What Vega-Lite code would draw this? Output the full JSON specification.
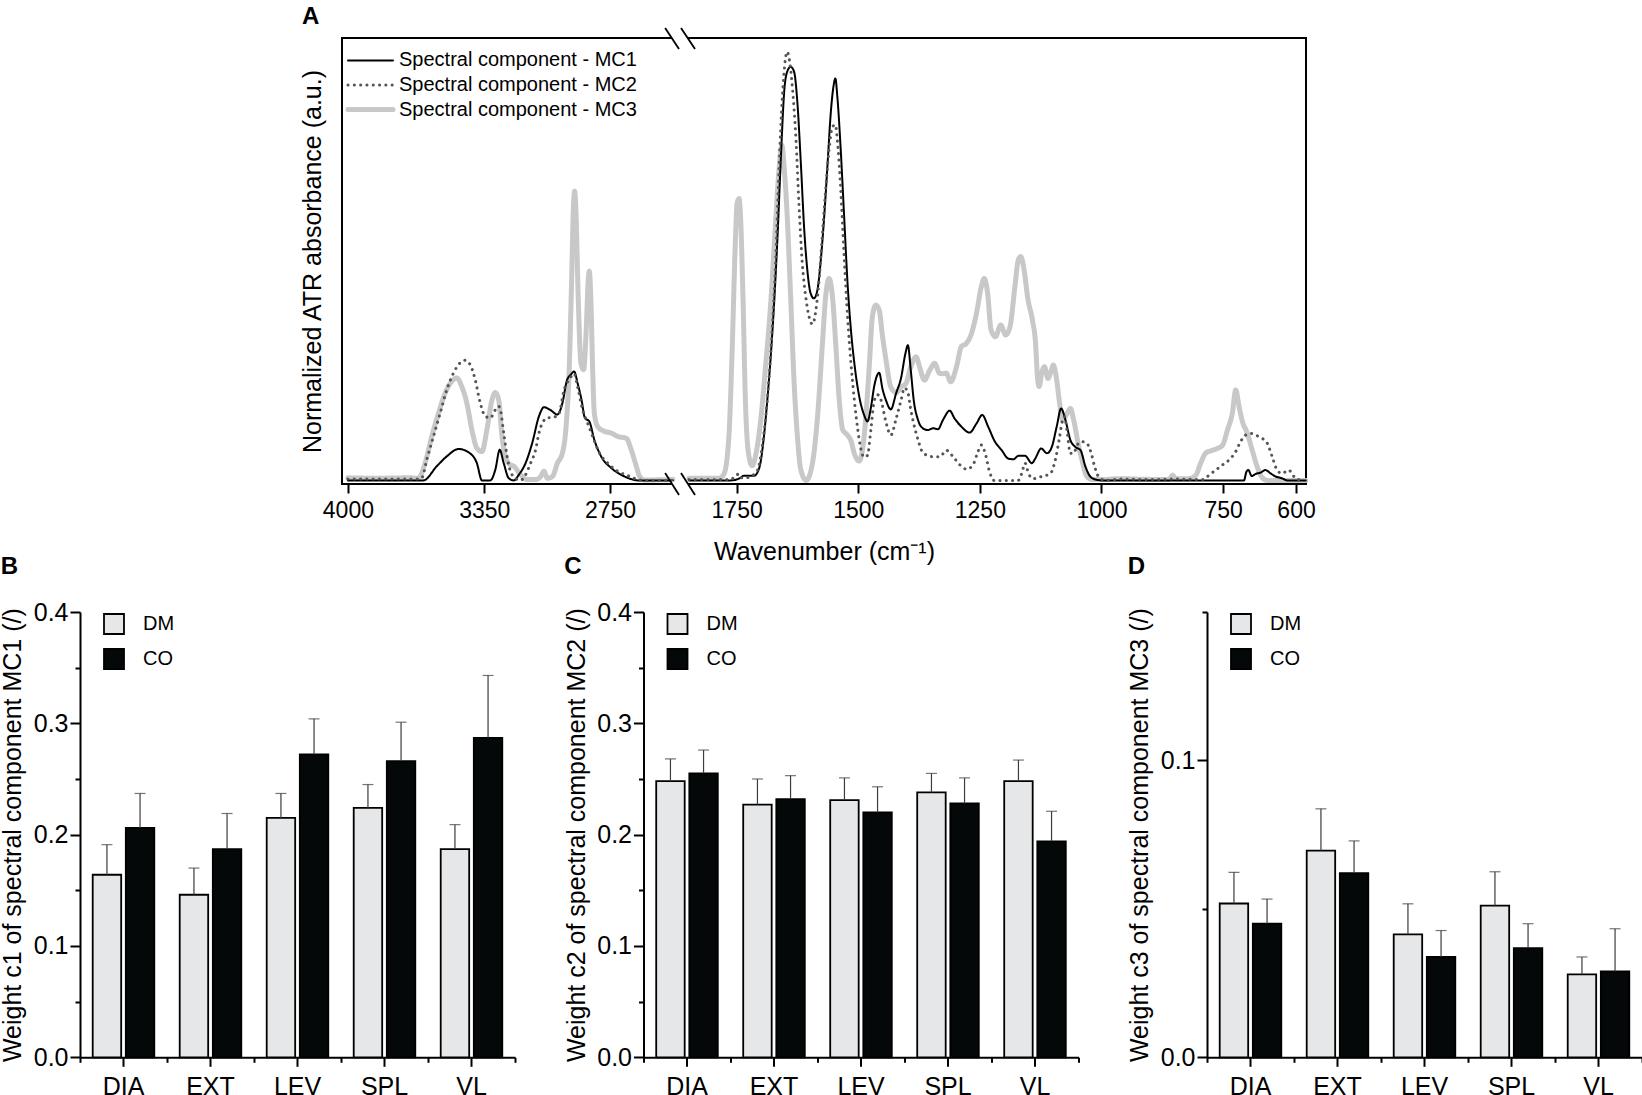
{
  "$schema": "https://vega.github.io/schema/vega-lite/v6.json",
  "padding": {"left": 0, "top": 3, "right": 0, "bottom": 0},
  "background": "white",
  "config": {
    "view": {"stroke": null},
    "font": "Liberation Sans",
    "axis": {"labelColor": "black", "titleColor": "black", "domainColor": "black", "tickColor": "black", "labelFont": "Liberation Sans", "titleFont": "Liberation Sans", "titleFontWeight": "normal", "grid": false},
    "legend": {"labelFont": "Liberation Sans", "labelColor": "black", "labelLimit": 400},
    "title": {"font": "Liberation Sans", "fontWeight": "bold", "fontSize": 24, "color": "black"}
  },
  "datasets": {
    "spec": [
      {"s":"L","c":"MC3","w":4000,"v":0.006},{"s":"L","c":"MC3","w":3864,"v":0.005},{"s":"L","c":"MC3","w":3704,"v":0.006},{"s":"L","c":"MC3","w":3664,"v":0.005},{"s":"L","c":"MC3","w":3656,"v":0.009},{"s":"L","c":"MC3","w":3632,"v":0.04},{"s":"L","c":"MC3","w":3600,"v":0.102},{"s":"L","c":"MC3","w":3568,"v":0.156},{"s":"L","c":"MC3","w":3536,"v":0.203},{"s":"L","c":"MC3","w":3505,"v":0.23},{"s":"L","c":"MC3","w":3481,"v":0.238},{"s":"L","c":"MC3","w":3457,"v":0.218},{"s":"L","c":"MC3","w":3433,"v":0.18},{"s":"L","c":"MC3","w":3409,"v":0.118},{"s":"L","c":"MC3","w":3385,"v":0.075},{"s":"L","c":"MC3","w":3361,"v":0.067},{"s":"L","c":"MC3","w":3337,"v":0.118},{"s":"L","c":"MC3","w":3313,"v":0.187},{"s":"L","c":"MC3","w":3297,"v":0.204},{"s":"L","c":"MC3","w":3281,"v":0.187},{"s":"L","c":"MC3","w":3265,"v":0.102},{"s":"L","c":"MC3","w":3249,"v":0.056},{"s":"L","c":"MC3","w":3225,"v":0.036},{"s":"L","c":"MC3","w":3209,"v":0.033},{"s":"L","c":"MC3","w":3177,"v":0.013},{"s":"L","c":"MC3","w":3145,"v":0.002},{"s":"L","c":"MC3","w":3105,"v":0.002},{"s":"L","c":"MC3","w":3081,"v":0.009},{"s":"L","c":"MC3","w":3065,"v":0.021},{"s":"L","c":"MC3","w":3049,"v":0.005},{"s":"L","c":"MC3","w":3025,"v":0.009},{"s":"L","c":"MC3","w":3001,"v":0.04},{"s":"L","c":"MC3","w":2977,"v":0.064},{"s":"L","c":"MC3","w":2961,"v":0.118},{"s":"L","c":"MC3","w":2945,"v":0.257},{"s":"L","c":"MC3","w":2934,"v":0.451},{"s":"L","c":"MC3","w":2924,"v":0.644},{"s":"L","c":"MC3","w":2919,"v":0.672},{"s":"L","c":"MC3","w":2913,"v":0.629},{"s":"L","c":"MC3","w":2902,"v":0.427},{"s":"L","c":"MC3","w":2889,"v":0.273},{"s":"L","c":"MC3","w":2876,"v":0.257},{"s":"L","c":"MC3","w":2865,"v":0.335},{"s":"L","c":"MC3","w":2854,"v":0.466},{"s":"L","c":"MC3","w":2849,"v":0.486},{"s":"L","c":"MC3","w":2841,"v":0.412},{"s":"L","c":"MC3","w":2833,"v":0.257},{"s":"L","c":"MC3","w":2825,"v":0.156},{"s":"L","c":"MC3","w":2809,"v":0.125},{"s":"L","c":"MC3","w":2777,"v":0.114},{"s":"L","c":"MC3","w":2745,"v":0.11},{"s":"L","c":"MC3","w":2713,"v":0.102},{"s":"L","c":"MC3","w":2673,"v":0.098},{"s":"L","c":"MC3","w":2649,"v":0.071},{"s":"L","c":"MC3","w":2625,"v":0.033},{"s":"L","c":"MC3","w":2609,"v":0.009},{"s":"L","c":"MC3","w":2585,"v":0.001},{"s":"L","c":"MC3","w":2450,"v":0.002},
      {"s":"R","c":"MC3","w":1848,"v":0.005},{"s":"R","c":"MC3","w":1786,"v":0.005},{"s":"R","c":"MC3","w":1776,"v":0.015},{"s":"R","c":"MC3","w":1766,"v":0.101},{"s":"R","c":"MC3","w":1759,"v":0.311},{"s":"R","c":"MC3","w":1753,"v":0.543},{"s":"R","c":"MC3","w":1749,"v":0.644},{"s":"R","c":"MC3","w":1745,"v":0.655},{"s":"R","c":"MC3","w":1742,"v":0.613},{"s":"R","c":"MC3","w":1737,"v":0.427},{"s":"R","c":"MC3","w":1732,"v":0.186},{"s":"R","c":"MC3","w":1725,"v":0.058},{"s":"R","c":"MC3","w":1718,"v":0.034},{"s":"R","c":"MC3","w":1711,"v":0.058},{"s":"R","c":"MC3","w":1701,"v":0.135},{"s":"R","c":"MC3","w":1690,"v":0.272},{"s":"R","c":"MC3","w":1680,"v":0.411},{"s":"R","c":"MC3","w":1670,"v":0.597},{"s":"R","c":"MC3","w":1663,"v":0.721},{"s":"R","c":"MC3","w":1657,"v":0.779},{"s":"R","c":"MC3","w":1653,"v":0.737},{"s":"R","c":"MC3","w":1646,"v":0.613},{"s":"R","c":"MC3","w":1639,"v":0.427},{"s":"R","c":"MC3","w":1632,"v":0.231},{"s":"R","c":"MC3","w":1625,"v":0.101},{"s":"R","c":"MC3","w":1618,"v":0.024},{"s":"R","c":"MC3","w":1607,"v":0},{"s":"R","c":"MC3","w":1594,"v":0.041},{"s":"R","c":"MC3","w":1584,"v":0.144},{"s":"R","c":"MC3","w":1574,"v":0.311},{"s":"R","c":"MC3","w":1567,"v":0.427},{"s":"R","c":"MC3","w":1560,"v":0.469},{"s":"R","c":"MC3","w":1553,"v":0.427},{"s":"R","c":"MC3","w":1546,"v":0.311},{"s":"R","c":"MC3","w":1539,"v":0.186},{"s":"R","c":"MC3","w":1532,"v":0.118},{"s":"R","c":"MC3","w":1522,"v":0.105},{"s":"R","c":"MC3","w":1515,"v":0.092},{"s":"R","c":"MC3","w":1508,"v":0.062},{"s":"R","c":"MC3","w":1498,"v":0.045},{"s":"R","c":"MC3","w":1488,"v":0.101},{"s":"R","c":"MC3","w":1477,"v":0.272},{"s":"R","c":"MC3","w":1471,"v":0.38},{"s":"R","c":"MC3","w":1464,"v":0.407},{"s":"R","c":"MC3","w":1457,"v":0.396},{"s":"R","c":"MC3","w":1450,"v":0.334},{"s":"R","c":"MC3","w":1443,"v":0.28},{"s":"R","c":"MC3","w":1433,"v":0.217},{"s":"R","c":"MC3","w":1422,"v":0.204},{"s":"R","c":"MC3","w":1412,"v":0.217},{"s":"R","c":"MC3","w":1402,"v":0.225},{"s":"R","c":"MC3","w":1392,"v":0.264},{"s":"R","c":"MC3","w":1381,"v":0.287},{"s":"R","c":"MC3","w":1374,"v":0.264},{"s":"R","c":"MC3","w":1364,"v":0.233},{"s":"R","c":"MC3","w":1353,"v":0.256},{"s":"R","c":"MC3","w":1343,"v":0.272},{"s":"R","c":"MC3","w":1333,"v":0.249},{"s":"R","c":"MC3","w":1326,"v":0.248},{"s":"R","c":"MC3","w":1319,"v":0.249},{"s":"R","c":"MC3","w":1310,"v":0.229},{"s":"R","c":"MC3","w":1298,"v":0.264},{"s":"R","c":"MC3","w":1288,"v":0.311},{"s":"R","c":"MC3","w":1278,"v":0.318},{"s":"R","c":"MC3","w":1267,"v":0.342},{"s":"R","c":"MC3","w":1257,"v":0.388},{"s":"R","c":"MC3","w":1247,"v":0.45},{"s":"R","c":"MC3","w":1241,"v":0.469},{"s":"R","c":"MC3","w":1234,"v":0.435},{"s":"R","c":"MC3","w":1227,"v":0.35},{"s":"R","c":"MC3","w":1218,"v":0.334},{"s":"R","c":"MC3","w":1207,"v":0.361},{"s":"R","c":"MC3","w":1197,"v":0.338},{"s":"R","c":"MC3","w":1188,"v":0.357},{"s":"R","c":"MC3","w":1178,"v":0.45},{"s":"R","c":"MC3","w":1171,"v":0.512},{"s":"R","c":"MC3","w":1166,"v":0.52},{"s":"R","c":"MC3","w":1158,"v":0.481},{"s":"R","c":"MC3","w":1152,"v":0.427},{"s":"R","c":"MC3","w":1142,"v":0.373},{"s":"R","c":"MC3","w":1136,"v":0.326},{"s":"R","c":"MC3","w":1131,"v":0.233},{"s":"R","c":"MC3","w":1128,"v":0.218},{"s":"R","c":"MC3","w":1123,"v":0.249},{"s":"R","c":"MC3","w":1117,"v":0.264},{"s":"R","c":"MC3","w":1110,"v":0.237},{"s":"R","c":"MC3","w":1103,"v":0.256},{"s":"R","c":"MC3","w":1099,"v":0.268},{"s":"R","c":"MC3","w":1092,"v":0.233},{"s":"R","c":"MC3","w":1086,"v":0.179},{"s":"R","c":"MC3","w":1080,"v":0.14},{"s":"R","c":"MC3","w":1071,"v":0.155},{"s":"R","c":"MC3","w":1064,"v":0.167},{"s":"R","c":"MC3","w":1057,"v":0.14},{"s":"R","c":"MC3","w":1048,"v":0.086},{"s":"R","c":"MC3","w":1040,"v":0.047},{"s":"R","c":"MC3","w":1030,"v":0.009},{"s":"R","c":"MC3","w":1019,"v":0.002},{"s":"R","c":"MC3","w":997,"v":0.002},{"s":"R","c":"MC3","w":960,"v":0.004},{"s":"R","c":"MC3","w":929,"v":0.003},{"s":"R","c":"MC3","w":860,"v":0.002},{"s":"R","c":"MC3","w":857,"v":0.008},{"s":"R","c":"MC3","w":854,"v":0.012},{"s":"R","c":"MC3","w":847,"v":0.004},{"s":"R","c":"MC3","w":820,"v":0.004},{"s":"R","c":"MC3","w":806,"v":0.012},{"s":"R","c":"MC3","w":796,"v":0.04},{"s":"R","c":"MC3","w":786,"v":0.063},{"s":"R","c":"MC3","w":772,"v":0.07},{"s":"R","c":"MC3","w":762,"v":0.074},{"s":"R","c":"MC3","w":751,"v":0.082},{"s":"R","c":"MC3","w":741,"v":0.117},{"s":"R","c":"MC3","w":731,"v":0.156},{"s":"R","c":"MC3","w":724,"v":0.21},{"s":"R","c":"MC3","w":717,"v":0.171},{"s":"R","c":"MC3","w":711,"v":0.14},{"s":"R","c":"MC3","w":700,"v":0.109},{"s":"R","c":"MC3","w":690,"v":0.07},{"s":"R","c":"MC3","w":680,"v":0.032},{"s":"R","c":"MC3","w":670,"v":0.007},{"s":"R","c":"MC3","w":659,"v":0},{"s":"R","c":"MC3","w":580,"v":0},
      {"s":"L","c":"MC1","w":4000,"v":0},{"s":"L","c":"MC1","w":3640,"v":0},{"s":"L","c":"MC1","w":3576,"v":0.033},{"s":"L","c":"MC1","w":3528,"v":0.056},{"s":"L","c":"MC1","w":3472,"v":0.073},{"s":"L","c":"MC1","w":3424,"v":0.065},{"s":"L","c":"MC1","w":3385,"v":0.04},{"s":"L","c":"MC1","w":3361,"v":0},{"s":"L","c":"MC1","w":3321,"v":0},{"s":"L","c":"MC1","w":3297,"v":0.025},{"s":"L","c":"MC1","w":3276,"v":0.071},{"s":"L","c":"MC1","w":3257,"v":0.04},{"s":"L","c":"MC1","w":3233,"v":0.005},{"s":"L","c":"MC1","w":3209,"v":0},{"s":"L","c":"MC1","w":3185,"v":0.013},{"s":"L","c":"MC1","w":3153,"v":0.04},{"s":"L","c":"MC1","w":3121,"v":0.087},{"s":"L","c":"MC1","w":3089,"v":0.149},{"s":"L","c":"MC1","w":3065,"v":0.17},{"s":"L","c":"MC1","w":3033,"v":0.163},{"s":"L","c":"MC1","w":3001,"v":0.153},{"s":"L","c":"MC1","w":2977,"v":0.18},{"s":"L","c":"MC1","w":2956,"v":0.232},{"s":"L","c":"MC1","w":2937,"v":0.246},{"s":"L","c":"MC1","w":2921,"v":0.253},{"s":"L","c":"MC1","w":2905,"v":0.226},{"s":"L","c":"MC1","w":2886,"v":0.187},{"s":"L","c":"MC1","w":2870,"v":0.145},{"s":"L","c":"MC1","w":2849,"v":0.137},{"s":"L","c":"MC1","w":2825,"v":0.094},{"s":"L","c":"MC1","w":2793,"v":0.056},{"s":"L","c":"MC1","w":2745,"v":0.029},{"s":"L","c":"MC1","w":2697,"v":0.013},{"s":"L","c":"MC1","w":2649,"v":0.003},{"s":"L","c":"MC1","w":2617,"v":0},{"s":"L","c":"MC1","w":2450,"v":0},
      {"s":"R","c":"MC1","w":1848,"v":0},{"s":"R","c":"MC1","w":1762,"v":0},{"s":"R","c":"MC1","w":1742,"v":0.006},{"s":"R","c":"MC1","w":1735,"v":0.011},{"s":"R","c":"MC1","w":1714,"v":0.011},{"s":"R","c":"MC1","w":1707,"v":0.019},{"s":"R","c":"MC1","w":1701,"v":0.041},{"s":"R","c":"MC1","w":1694,"v":0.101},{"s":"R","c":"MC1","w":1687,"v":0.186},{"s":"R","c":"MC1","w":1680,"v":0.287},{"s":"R","c":"MC1","w":1673,"v":0.411},{"s":"R","c":"MC1","w":1666,"v":0.566},{"s":"R","c":"MC1","w":1659,"v":0.752},{"s":"R","c":"MC1","w":1652,"v":0.907},{"s":"R","c":"MC1","w":1646,"v":0.95},{"s":"R","c":"MC1","w":1639,"v":0.961},{"s":"R","c":"MC1","w":1632,"v":0.95},{"s":"R","c":"MC1","w":1625,"v":0.876},{"s":"R","c":"MC1","w":1618,"v":0.737},{"s":"R","c":"MC1","w":1611,"v":0.582},{"s":"R","c":"MC1","w":1604,"v":0.481},{"s":"R","c":"MC1","w":1598,"v":0.435},{"s":"R","c":"MC1","w":1591,"v":0.423},{"s":"R","c":"MC1","w":1584,"v":0.442},{"s":"R","c":"MC1","w":1577,"v":0.512},{"s":"R","c":"MC1","w":1570,"v":0.613},{"s":"R","c":"MC1","w":1563,"v":0.737},{"s":"R","c":"MC1","w":1556,"v":0.861},{"s":"R","c":"MC1","w":1551,"v":0.915},{"s":"R","c":"MC1","w":1547,"v":0.934},{"s":"R","c":"MC1","w":1543,"v":0.892},{"s":"R","c":"MC1","w":1536,"v":0.768},{"s":"R","c":"MC1","w":1529,"v":0.613},{"s":"R","c":"MC1","w":1522,"v":0.458},{"s":"R","c":"MC1","w":1515,"v":0.349},{"s":"R","c":"MC1","w":1508,"v":0.272},{"s":"R","c":"MC1","w":1498,"v":0.195},{"s":"R","c":"MC1","w":1488,"v":0.152},{"s":"R","c":"MC1","w":1481,"v":0.137},{"s":"R","c":"MC1","w":1474,"v":0.169},{"s":"R","c":"MC1","w":1467,"v":0.22},{"s":"R","c":"MC1","w":1457,"v":0.25},{"s":"R","c":"MC1","w":1450,"v":0.212},{"s":"R","c":"MC1","w":1443,"v":0.186},{"s":"R","c":"MC1","w":1433,"v":0.165},{"s":"R","c":"MC1","w":1422,"v":0.203},{"s":"R","c":"MC1","w":1412,"v":0.238},{"s":"R","c":"MC1","w":1403,"v":0.295},{"s":"R","c":"MC1","w":1398,"v":0.314},{"s":"R","c":"MC1","w":1392,"v":0.256},{"s":"R","c":"MC1","w":1386,"v":0.187},{"s":"R","c":"MC1","w":1377,"v":0.14},{"s":"R","c":"MC1","w":1367,"v":0.121},{"s":"R","c":"MC1","w":1357,"v":0.117},{"s":"R","c":"MC1","w":1346,"v":0.121},{"s":"R","c":"MC1","w":1336,"v":0.119},{"s":"R","c":"MC1","w":1326,"v":0.14},{"s":"R","c":"MC1","w":1312,"v":0.162},{"s":"R","c":"MC1","w":1302,"v":0.144},{"s":"R","c":"MC1","w":1288,"v":0.125},{"s":"R","c":"MC1","w":1271,"v":0.111},{"s":"R","c":"MC1","w":1257,"v":0.132},{"s":"R","c":"MC1","w":1245,"v":0.152},{"s":"R","c":"MC1","w":1233,"v":0.125},{"s":"R","c":"MC1","w":1219,"v":0.09},{"s":"R","c":"MC1","w":1205,"v":0.07},{"s":"R","c":"MC1","w":1192,"v":0.051},{"s":"R","c":"MC1","w":1181,"v":0.049},{"s":"R","c":"MC1","w":1171,"v":0.057},{"s":"R","c":"MC1","w":1157,"v":0.057},{"s":"R","c":"MC1","w":1143,"v":0.04},{"s":"R","c":"MC1","w":1136,"v":0.051},{"s":"R","c":"MC1","w":1124,"v":0.074},{"s":"R","c":"MC1","w":1112,"v":0.063},{"s":"R","c":"MC1","w":1102,"v":0.078},{"s":"R","c":"MC1","w":1092,"v":0.125},{"s":"R","c":"MC1","w":1083,"v":0.167},{"s":"R","c":"MC1","w":1074,"v":0.14},{"s":"R","c":"MC1","w":1064,"v":0.094},{"s":"R","c":"MC1","w":1054,"v":0.078},{"s":"R","c":"MC1","w":1043,"v":0.07},{"s":"R","c":"MC1","w":1033,"v":0.032},{"s":"R","c":"MC1","w":1023,"v":0.009},{"s":"R","c":"MC1","w":1012,"v":0.002},{"s":"R","c":"MC1","w":999,"v":0},{"s":"R","c":"MC1","w":707,"v":0},{"s":"R","c":"MC1","w":702,"v":0.02},{"s":"R","c":"MC1","w":698,"v":0.024},{"s":"R","c":"MC1","w":691,"v":0.01},{"s":"R","c":"MC1","w":683,"v":0.015},{"s":"R","c":"MC1","w":673,"v":0.018},{"s":"R","c":"MC1","w":663,"v":0.024},{"s":"R","c":"MC1","w":652,"v":0.016},{"s":"R","c":"MC1","w":642,"v":0.009},{"s":"R","c":"MC1","w":629,"v":0.005},{"s":"R","c":"MC1","w":618,"v":0},{"s":"R","c":"MC1","w":580,"v":0},
      {"s":"L","c":"MC2","w":4000,"v":0.003},{"s":"L","c":"MC2","w":3664,"v":0.003},{"s":"L","c":"MC2","w":3648,"v":0.005},{"s":"L","c":"MC2","w":3624,"v":0.048},{"s":"L","c":"MC2","w":3592,"v":0.102},{"s":"L","c":"MC2","w":3560,"v":0.156},{"s":"L","c":"MC2","w":3528,"v":0.211},{"s":"L","c":"MC2","w":3497,"v":0.249},{"s":"L","c":"MC2","w":3465,"v":0.273},{"s":"L","c":"MC2","w":3441,"v":0.279},{"s":"L","c":"MC2","w":3417,"v":0.269},{"s":"L","c":"MC2","w":3393,"v":0.234},{"s":"L","c":"MC2","w":3369,"v":0.18},{"s":"L","c":"MC2","w":3345,"v":0.149},{"s":"L","c":"MC2","w":3321,"v":0.145},{"s":"L","c":"MC2","w":3297,"v":0.164},{"s":"L","c":"MC2","w":3281,"v":0.172},{"s":"L","c":"MC2","w":3273,"v":0.164},{"s":"L","c":"MC2","w":3257,"v":0.11},{"s":"L","c":"MC2","w":3241,"v":0.056},{"s":"L","c":"MC2","w":3225,"v":0.021},{"s":"L","c":"MC2","w":3201,"v":0.005},{"s":"L","c":"MC2","w":3177,"v":0},{"s":"L","c":"MC2","w":3153,"v":0.013},{"s":"L","c":"MC2","w":3129,"v":0.04},{"s":"L","c":"MC2","w":3105,"v":0.071},{"s":"L","c":"MC2","w":3089,"v":0.11},{"s":"L","c":"MC2","w":3073,"v":0.133},{"s":"L","c":"MC2","w":3049,"v":0.145},{"s":"L","c":"MC2","w":3017,"v":0.147},{"s":"L","c":"MC2","w":2993,"v":0.156},{"s":"L","c":"MC2","w":2969,"v":0.211},{"s":"L","c":"MC2","w":2945,"v":0.234},{"s":"L","c":"MC2","w":2921,"v":0.248},{"s":"L","c":"MC2","w":2905,"v":0.218},{"s":"L","c":"MC2","w":2881,"v":0.164},{"s":"L","c":"MC2","w":2857,"v":0.133},{"s":"L","c":"MC2","w":2833,"v":0.102},{"s":"L","c":"MC2","w":2801,"v":0.064},{"s":"L","c":"MC2","w":2761,"v":0.04},{"s":"L","c":"MC2","w":2713,"v":0.021},{"s":"L","c":"MC2","w":2665,"v":0.011},{"s":"L","c":"MC2","w":2617,"v":0.002},{"s":"L","c":"MC2","w":2585,"v":0},{"s":"L","c":"MC2","w":2450,"v":0},
      {"s":"R","c":"MC2","w":1848,"v":0.002},{"s":"R","c":"MC2","w":1762,"v":0.002},{"s":"R","c":"MC2","w":1752,"v":0.011},{"s":"R","c":"MC2","w":1745,"v":0.015},{"s":"R","c":"MC2","w":1740,"v":0.006},{"s":"R","c":"MC2","w":1731,"v":0.006},{"s":"R","c":"MC2","w":1718,"v":0.011},{"s":"R","c":"MC2","w":1707,"v":0.024},{"s":"R","c":"MC2","w":1697,"v":0.083},{"s":"R","c":"MC2","w":1687,"v":0.186},{"s":"R","c":"MC2","w":1677,"v":0.349},{"s":"R","c":"MC2","w":1670,"v":0.504},{"s":"R","c":"MC2","w":1663,"v":0.721},{"s":"R","c":"MC2","w":1656,"v":0.892},{"s":"R","c":"MC2","w":1650,"v":0.977},{"s":"R","c":"MC2","w":1646,"v":0.996},{"s":"R","c":"MC2","w":1641,"v":0.973},{"s":"R","c":"MC2","w":1635,"v":0.907},{"s":"R","c":"MC2","w":1628,"v":0.791},{"s":"R","c":"MC2","w":1622,"v":0.643},{"s":"R","c":"MC2","w":1615,"v":0.504},{"s":"R","c":"MC2","w":1608,"v":0.427},{"s":"R","c":"MC2","w":1601,"v":0.38},{"s":"R","c":"MC2","w":1594,"v":0.363},{"s":"R","c":"MC2","w":1587,"v":0.396},{"s":"R","c":"MC2","w":1580,"v":0.473},{"s":"R","c":"MC2","w":1574,"v":0.566},{"s":"R","c":"MC2","w":1567,"v":0.675},{"s":"R","c":"MC2","w":1560,"v":0.768},{"s":"R","c":"MC2","w":1553,"v":0.822},{"s":"R","c":"MC2","w":1547,"v":0.826},{"s":"R","c":"MC2","w":1543,"v":0.791},{"s":"R","c":"MC2","w":1536,"v":0.675},{"s":"R","c":"MC2","w":1529,"v":0.52},{"s":"R","c":"MC2","w":1522,"v":0.38},{"s":"R","c":"MC2","w":1515,"v":0.272},{"s":"R","c":"MC2","w":1508,"v":0.186},{"s":"R","c":"MC2","w":1501,"v":0.118},{"s":"R","c":"MC2","w":1495,"v":0.075},{"s":"R","c":"MC2","w":1488,"v":0.054},{"s":"R","c":"MC2","w":1481,"v":0.058},{"s":"R","c":"MC2","w":1474,"v":0.118},{"s":"R","c":"MC2","w":1467,"v":0.186},{"s":"R","c":"MC2","w":1460,"v":0.199},{"s":"R","c":"MC2","w":1453,"v":0.186},{"s":"R","c":"MC2","w":1443,"v":0.135},{"s":"R","c":"MC2","w":1433,"v":0.105},{"s":"R","c":"MC2","w":1422,"v":0.144},{"s":"R","c":"MC2","w":1412,"v":0.186},{"s":"R","c":"MC2","w":1405,"v":0.215},{"s":"R","c":"MC2","w":1398,"v":0.205},{"s":"R","c":"MC2","w":1393,"v":0.171},{"s":"R","c":"MC2","w":1386,"v":0.132},{"s":"R","c":"MC2","w":1377,"v":0.094},{"s":"R","c":"MC2","w":1370,"v":0.07},{"s":"R","c":"MC2","w":1360,"v":0.059},{"s":"R","c":"MC2","w":1346,"v":0.055},{"s":"R","c":"MC2","w":1332,"v":0.055},{"s":"R","c":"MC2","w":1319,"v":0.07},{"s":"R","c":"MC2","w":1305,"v":0.055},{"s":"R","c":"MC2","w":1291,"v":0.036},{"s":"R","c":"MC2","w":1277,"v":0.026},{"s":"R","c":"MC2","w":1264,"v":0.036},{"s":"R","c":"MC2","w":1255,"v":0.063},{"s":"R","c":"MC2","w":1247,"v":0.082},{"s":"R","c":"MC2","w":1239,"v":0.063},{"s":"R","c":"MC2","w":1230,"v":0.02},{"s":"R","c":"MC2","w":1221,"v":0},{"s":"R","c":"MC2","w":1171,"v":0},{"s":"R","c":"MC2","w":1164,"v":0.016},{"s":"R","c":"MC2","w":1157,"v":0.04},{"s":"R","c":"MC2","w":1150,"v":0.016},{"s":"R","c":"MC2","w":1140,"v":0.004},{"s":"R","c":"MC2","w":1123,"v":0.009},{"s":"R","c":"MC2","w":1105,"v":0.016},{"s":"R","c":"MC2","w":1095,"v":0.047},{"s":"R","c":"MC2","w":1087,"v":0.094},{"s":"R","c":"MC2","w":1080,"v":0.14},{"s":"R","c":"MC2","w":1076,"v":0.148},{"s":"R","c":"MC2","w":1071,"v":0.117},{"s":"R","c":"MC2","w":1064,"v":0.063},{"s":"R","c":"MC2","w":1057,"v":0.063},{"s":"R","c":"MC2","w":1050,"v":0.082},{"s":"R","c":"MC2","w":1040,"v":0.09},{"s":"R","c":"MC2","w":1030,"v":0.086},{"s":"R","c":"MC2","w":1021,"v":0.063},{"s":"R","c":"MC2","w":1014,"v":0.032},{"s":"R","c":"MC2","w":1006,"v":0.009},{"s":"R","c":"MC2","w":992,"v":0},{"s":"R","c":"MC2","w":960,"v":0.003},{"s":"R","c":"MC2","w":900,"v":0.002},{"s":"R","c":"MC2","w":850,"v":0.003},{"s":"R","c":"MC2","w":792,"v":0.002},{"s":"R","c":"MC2","w":786,"v":0.005},{"s":"R","c":"MC2","w":779,"v":0.012},{"s":"R","c":"MC2","w":765,"v":0.024},{"s":"R","c":"MC2","w":751,"v":0.036},{"s":"R","c":"MC2","w":738,"v":0.047},{"s":"R","c":"MC2","w":724,"v":0.067},{"s":"R","c":"MC2","w":714,"v":0.09},{"s":"R","c":"MC2","w":704,"v":0.105},{"s":"R","c":"MC2","w":693,"v":0.109},{"s":"R","c":"MC2","w":683,"v":0.105},{"s":"R","c":"MC2","w":670,"v":0.098},{"s":"R","c":"MC2","w":659,"v":0.086},{"s":"R","c":"MC2","w":649,"v":0.055},{"s":"R","c":"MC2","w":639,"v":0.024},{"s":"R","c":"MC2","w":629,"v":0.016},{"s":"R","c":"MC2","w":615,"v":0.024},{"s":"R","c":"MC2","w":605,"v":0.01},{"s":"R","c":"MC2","w":598,"v":0.002},{"s":"R","c":"MC2","w":585,"v":0.002}
    ],
    "gap": [
      {"x": 1883, "x2": 1850, "y": 1.028},
      {"x": 1883, "x2": 1850, "y": -0.0084}
    ],
    "slash": [
      {"x": 1897, "x2": 1868.5, "y": 1.051, "y2": 1.0023},
      {"x": 1864.4, "x2": 1835.6, "y": 1.051, "y2": 1.0023},
      {"x": 1897, "x2": 1868.5, "y": 0.0172, "y2": -0.0339},
      {"x": 1864.4, "x2": 1835.6, "y": 0.0172, "y2": -0.0339}
    ],
    "bars": [
      {"p":"B","cat":"DIA","grp":"DM","v":0.164,"err":0.191},{"p":"B","cat":"DIA","grp":"CO","v":0.206,"err":0.237},
      {"p":"B","cat":"EXT","grp":"DM","v":0.146,"err":0.170},{"p":"B","cat":"EXT","grp":"CO","v":0.187,"err":0.219},
      {"p":"B","cat":"LEV","grp":"DM","v":0.215,"err":0.237},{"p":"B","cat":"LEV","grp":"CO","v":0.272,"err":0.304},
      {"p":"B","cat":"SPL","grp":"DM","v":0.224,"err":0.245},{"p":"B","cat":"SPL","grp":"CO","v":0.266,"err":0.301},
      {"p":"B","cat":"VL","grp":"DM","v":0.187,"err":0.209},{"p":"B","cat":"VL","grp":"CO","v":0.287,"err":0.343},
      {"p":"C","cat":"DIA","grp":"DM","v":0.248,"err":0.268},{"p":"C","cat":"DIA","grp":"CO","v":0.255,"err":0.276},
      {"p":"C","cat":"EXT","grp":"DM","v":0.227,"err":0.250},{"p":"C","cat":"EXT","grp":"CO","v":0.232,"err":0.253},
      {"p":"C","cat":"LEV","grp":"DM","v":0.231,"err":0.251},{"p":"C","cat":"LEV","grp":"CO","v":0.220,"err":0.243},
      {"p":"C","cat":"SPL","grp":"DM","v":0.238,"err":0.255},{"p":"C","cat":"SPL","grp":"CO","v":0.228,"err":0.251},
      {"p":"C","cat":"VL","grp":"DM","v":0.248,"err":0.267},{"p":"C","cat":"VL","grp":"CO","v":0.194,"err":0.221},
      {"p":"D","cat":"DIA","grp":"DM","v":0.0518,"err":0.0623},{"p":"D","cat":"DIA","grp":"CO","v":0.0450,"err":0.0533},
      {"p":"D","cat":"EXT","grp":"DM","v":0.0696,"err":0.0837},{"p":"D","cat":"EXT","grp":"CO","v":0.0620,"err":0.0729},
      {"p":"D","cat":"LEV","grp":"DM","v":0.0414,"err":0.0517},{"p":"D","cat":"LEV","grp":"CO","v":0.0338,"err":0.0427},
      {"p":"D","cat":"SPL","grp":"DM","v":0.0511,"err":0.0625},{"p":"D","cat":"SPL","grp":"CO","v":0.0368,"err":0.0450},
      {"p":"D","cat":"VL","grp":"DM","v":0.0279,"err":0.0338},{"p":"D","cat":"VL","grp":"CO","v":0.0289,"err":0.0433}
    ]
  },
  "spacing": -11,
  "vconcat": [
    {
      "spacing": 208,
      "resolve": {"scale": {"color": "independent", "strokeDash": "independent"}, "legend": {"color": "independent", "strokeDash": "independent"}},
      "hconcat": [
        {
          "width": 10,
          "height": 446,
          "view": {"stroke": "transparent", "fill": "transparent"},
          "data": {"values": [{"k": 1}]},
          "mark": {"type": "point", "opacity": 0}
        },
        {
          "width": 964,
          "height": 446,
          "view": {"stroke": "black", "strokeWidth": 2},
          "title": {"text": "A", "anchor": "start", "frame": "group", "dx": -40, "baseline": "alphabetic", "offset": -20.5},
          "layer": [
            {
              "data": {"name": "spec"},
              "transform": [{"filter": "datum.s == 'L'"}],
              "mark": {"type": "line", "interpolate": "monotone", "strokeJoin": "round", "strokeCap": "round"},
              "encoding": {
                "x": {"field": "w", "type": "quantitative", "scale": {"domain": [4028, 2450], "range": [0, 331], "nice": false, "zero": false},
                      "axis": {"orient": "bottom", "values": [4000, 3350, 2750], "format": "d", "domain": false, "tickSize": 9, "tickWidth": 2, "labelFontSize": 23, "labelPadding": 6, "labelFlush": false, "labelOverlap": false,
                               "title": "Wavenumber (cm\u207b\u00b9)", "titleX": 482, "titleFontSize": 25, "titlePadding": 17}},
                "y": {"field": "v", "type": "quantitative", "scale": {"domain": [-0.0084, 1.028], "nice": false, "zero": false},
                      "axis": {"orient": "left", "title": "Normalized ATR absorbance (a.u.)", "titleFontSize": 25, "titlePadding": 17, "ticks": false, "labels": false, "domain": false}},
                "color": {"field": "c", "type": "nominal", "scale": {"domain": ["MC1", "MC2", "MC3"], "range": ["#000000", "#555555", "#c8c8c8"]},
                          "legend": {"title": null, "orient": "none", "legendX": 18.5, "legendY": 12.4, "padding": 0, "symbolType": "M-2.25,0L2.25,0", "symbolSize": 400, "labelFontSize": 20, "labelOffset": 18.5, "rowPadding": 4.6, "labelLimit": 400, "labelExpr": "'Spectral component - ' + datum.label",
                                     "encode": {"symbols": {"update": {"strokeCap": {"value": "round"}, "strokeWidth": {"signal": "datum.value === 'MC3' ? 5 : datum.value === 'MC2' ? 3 : 2"}}}}}},
                "strokeDash": {"field": "c", "type": "nominal", "scale": {"domain": ["MC1", "MC2", "MC3"], "range": [[1, 0], [0.1, 6.2], [1, 0]]},
                          "legend": {"title": null, "orient": "none", "legendX": 18.5, "legendY": 12.4, "padding": 0, "symbolType": "M-2.25,0L2.25,0", "symbolSize": 400, "labelFontSize": 20, "labelOffset": 18.5, "rowPadding": 4.6, "labelLimit": 400, "labelExpr": "'Spectral component - ' + datum.label",
                                     "encode": {"symbols": {"update": {"strokeCap": {"value": "round"}, "strokeWidth": {"signal": "datum.value === 'MC3' ? 5 : datum.value === 'MC2' ? 3 : 2"}}}}}},
                "strokeWidth": {"condition": [{"test": "datum.c === 'MC3'", "value": 5}, {"test": "datum.c === 'MC2'", "value": 3}], "value": 2}
              }
            },
            {
              "data": {"name": "spec"},
              "transform": [{"filter": "datum.s == 'R'"}],
              "mark": {"type": "line", "interpolate": "monotone", "strokeJoin": "round", "strokeCap": "round"},
              "encoding": {
                "x": {"field": "w", "type": "quantitative", "scale": {"domain": [1850, 579.5], "range": [346, 964], "nice": false, "zero": false},
                      "axis": {"orient": "bottom", "values": [1750, 1500, 1250, 1000, 750, 600], "format": "d", "domain": false, "tickSize": 9, "tickWidth": 2, "labelFontSize": 23, "labelPadding": 6, "labelFlush": false, "labelOverlap": false, "title": null}},
                "y": {"field": "v", "type": "quantitative", "scale": {"domain": [-0.0084, 1.028], "nice": false, "zero": false}, "axis": null},
                "color": {"field": "c", "type": "nominal", "scale": {"domain": ["MC1", "MC2", "MC3"], "range": ["#000000", "#555555", "#c8c8c8"]}},
                "strokeDash": {"field": "c", "type": "nominal", "scale": {"domain": ["MC1", "MC2", "MC3"], "range": [[1, 0], [0.1, 6.2], [1, 0]]}},
                "strokeWidth": {"condition": [{"test": "datum.c === 'MC3'", "value": 5}, {"test": "datum.c === 'MC2'", "value": 3}], "value": 2}
              }
            },
            {
              "data": {"name": "gap"},
              "mark": {"type": "rule", "color": "white", "strokeWidth": 5},
              "encoding": {
                "x": {"field": "x", "type": "quantitative", "scale": {"domain": [1850, 579.5], "range": [346, 964], "nice": false, "zero": false}, "axis": null},
                "x2": {"field": "x2"},
                "y": {"field": "y", "type": "quantitative", "scale": {"domain": [-0.0084, 1.028], "nice": false, "zero": false}, "axis": null}
              }
            },
            {
              "data": {"name": "slash"},
              "mark": {"type": "rule", "color": "black", "strokeWidth": 1.8},
              "encoding": {
                "x": {"field": "x", "type": "quantitative", "scale": {"domain": [1850, 579.5], "range": [346, 964], "nice": false, "zero": false}, "axis": null},
                "x2": {"field": "x2"},
                "y": {"field": "y", "type": "quantitative", "scale": {"domain": [-0.0084, 1.028], "nice": false, "zero": false}, "axis": null},
                "y2": {"field": "y2"}
              }
            }
          ],
          "resolve": {"scale": {"x": "independent"}, "axis": {"x": "independent", "y": "independent"}}
        }
      ]
    },
    {
      "spacing": 47.5,
      "resolve": {"scale": {"fill": "independent"}},
      "hconcat": [
        {
          "width": 435, "height": 445.3,
          "data": {"name": "bars"},
          "transform": [{"filter": "datum.p == 'B'"}],
          "title": {"text": "B", "anchor": "start", "frame": "bounds", "baseline": "alphabetic", "offset": 1.8},
          "layer": [
            {
              "mark": {"type": "bar", "stroke": "black", "strokeWidth": 1.8},
              "encoding": {
                "x": {"field": "cat", "type": "nominal", "scale": {"paddingInner": 0, "paddingOuter": 0}, "axis": {"orient": "bottom", "title": null, "labelAngle": 0, "tickSize": 9, "tickWidth": 2, "domainWidth": 2, "labelFontSize": 25, "labelPadding": 8}},
                "xOffset": {"field": "grp", "type": "nominal", "sort": ["DM", "CO"], "scale": {"paddingInner": 0.14, "paddingOuter": 0.384}},
                "y": {"field": "v", "type": "quantitative", "scale": {"domain": [0, 0.4], "nice": false}, "axis": {"orient": "left", "values": [0, 0.1, 0.2, 0.3, 0.4], "format": ".1f", "tickSize": 10, "tickWidth": 2, "domainWidth": 2, "labelFontSize": 25, "labelPadding": 2, "title": "Weight c1 of spectral component MC1 (/)", "titleFontSize": 25, "titlePadding": 7.5}},
                "fill": {"field": "grp", "type": "nominal", "scale": {"domain": ["DM", "CO"], "range": ["#e6e7e8", "#050808"]}, "legend": {"title": null, "orient": "none", "legendX": 23, "legendY": 1, "padding": 0, "symbolType": "square", "symbolSize": 400, "symbolStrokeColor": "black", "symbolStrokeWidth": 1.8, "labelFontSize": 20, "labelOffset": 18, "rowPadding": 7}}
              }
            },
            {
              "mark": {"type": "rule", "color": "#3c3c3c", "strokeWidth": 1.2},
              "encoding": {
                "x": {"field": "cat", "type": "nominal", "axis": {"orient": "bottom", "title": null, "tickBand": "extent", "labels": false, "domain": false, "tickSize": 5, "tickWidth": 2}},
                "xOffset": {"field": "grp", "type": "nominal", "sort": ["DM", "CO"]},
                "y": {"field": "v", "type": "quantitative", "scale": {"domain": [0, 0.4], "nice": false}, "axis": {"orient": "left", "values": [0.05, 0.15, 0.25, 0.35], "labels": false, "domain": false, "tickSize": 5, "tickWidth": 2, "title": null}},
                "y2": {"field": "err"}
              }
            },
            {
              "mark": {"type": "tick", "orient": "horizontal", "color": "#3c3c3c", "thickness": 1.2, "size": 11},
              "encoding": {
                "x": {"field": "cat", "type": "nominal", "axis": null},
                "xOffset": {"field": "grp", "type": "nominal", "sort": ["DM", "CO"]},
                "y": {"field": "err", "type": "quantitative", "scale": {"domain": [0, 0.4], "nice": false}, "axis": null}
              }
            }
          ],
          "resolve": {"axis": {"x": "independent", "y": "independent"}}
        },
        {
          "width": 435, "height": 445.3,
          "data": {"name": "bars"},
          "transform": [{"filter": "datum.p == 'C'"}],
          "title": {"text": "C", "anchor": "start", "frame": "bounds", "baseline": "alphabetic", "offset": 1.8},
          "layer": [
            {
              "mark": {"type": "bar", "stroke": "black", "strokeWidth": 1.8},
              "encoding": {
                "x": {"field": "cat", "type": "nominal", "scale": {"paddingInner": 0, "paddingOuter": 0}, "axis": {"orient": "bottom", "title": null, "labelAngle": 0, "tickSize": 9, "tickWidth": 2, "domainWidth": 2, "labelFontSize": 25, "labelPadding": 8}},
                "xOffset": {"field": "grp", "type": "nominal", "sort": ["DM", "CO"], "scale": {"paddingInner": 0.14, "paddingOuter": 0.384}},
                "y": {"field": "v", "type": "quantitative", "scale": {"domain": [0, 0.4], "nice": false}, "axis": {"orient": "left", "values": [0, 0.1, 0.2, 0.3, 0.4], "format": ".1f", "tickSize": 10, "tickWidth": 2, "domainWidth": 2, "labelFontSize": 25, "labelPadding": 2, "title": "Weight c2 of spectral component MC2 (/)", "titleFontSize": 25, "titlePadding": 7.5}},
                "fill": {"field": "grp", "type": "nominal", "scale": {"domain": ["DM", "CO"], "range": ["#e6e7e8", "#050808"]}, "legend": {"title": null, "orient": "none", "legendX": 23, "legendY": 1, "padding": 0, "symbolType": "square", "symbolSize": 400, "symbolStrokeColor": "black", "symbolStrokeWidth": 1.8, "labelFontSize": 20, "labelOffset": 18, "rowPadding": 7}}
              }
            },
            {
              "mark": {"type": "rule", "color": "#3c3c3c", "strokeWidth": 1.2},
              "encoding": {
                "x": {"field": "cat", "type": "nominal", "axis": {"orient": "bottom", "title": null, "tickBand": "extent", "labels": false, "domain": false, "tickSize": 5, "tickWidth": 2}},
                "xOffset": {"field": "grp", "type": "nominal", "sort": ["DM", "CO"]},
                "y": {"field": "v", "type": "quantitative", "scale": {"domain": [0, 0.4], "nice": false}, "axis": {"orient": "left", "values": [0.05, 0.15, 0.25, 0.35], "labels": false, "domain": false, "tickSize": 5, "tickWidth": 2, "title": null}},
                "y2": {"field": "err"}
              }
            },
            {
              "mark": {"type": "tick", "orient": "horizontal", "color": "#3c3c3c", "thickness": 1.2, "size": 11},
              "encoding": {
                "x": {"field": "cat", "type": "nominal", "axis": null},
                "xOffset": {"field": "grp", "type": "nominal", "sort": ["DM", "CO"]},
                "y": {"field": "err", "type": "quantitative", "scale": {"domain": [0, 0.4], "nice": false}, "axis": null}
              }
            }
          ],
          "resolve": {"axis": {"x": "independent", "y": "independent"}}
        },
        {
          "width": 435, "height": 445.3,
          "data": {"name": "bars"},
          "transform": [{"filter": "datum.p == 'D'"}],
          "title": {"text": "D", "anchor": "start", "frame": "bounds", "baseline": "alphabetic", "offset": 10},
          "layer": [
            {
              "mark": {"type": "bar", "stroke": "black", "strokeWidth": 1.8},
              "encoding": {
                "x": {"field": "cat", "type": "nominal", "scale": {"paddingInner": 0, "paddingOuter": 0}, "axis": {"orient": "bottom", "title": null, "labelAngle": 0, "tickSize": 9, "tickWidth": 2, "domainWidth": 2, "labelFontSize": 25, "labelPadding": 8}},
                "xOffset": {"field": "grp", "type": "nominal", "sort": ["DM", "CO"], "scale": {"paddingInner": 0.14, "paddingOuter": 0.384}},
                "y": {"field": "v", "type": "quantitative", "scale": {"domain": [0, 0.15], "nice": false}, "axis": {"orient": "left", "values": [0, 0.1], "format": ".1f", "tickSize": 10, "tickWidth": 2, "domainWidth": 2, "labelFontSize": 25, "labelPadding": 2, "title": "Weight c3 of spectral component MC3 (/)", "titleFontSize": 25, "titlePadding": 7.5}},
                "fill": {"field": "grp", "type": "nominal", "scale": {"domain": ["DM", "CO"], "range": ["#e6e7e8", "#050808"]}, "legend": {"title": null, "orient": "none", "legendX": 23, "legendY": 1, "padding": 0, "symbolType": "square", "symbolSize": 400, "symbolStrokeColor": "black", "symbolStrokeWidth": 1.8, "labelFontSize": 20, "labelOffset": 18, "rowPadding": 7}}
              }
            },
            {
              "mark": {"type": "rule", "color": "#3c3c3c", "strokeWidth": 1.2},
              "encoding": {
                "x": {"field": "cat", "type": "nominal", "axis": {"orient": "bottom", "title": null, "tickBand": "extent", "labels": false, "domain": false, "tickSize": 5, "tickWidth": 2}},
                "xOffset": {"field": "grp", "type": "nominal", "sort": ["DM", "CO"]},
                "y": {"field": "v", "type": "quantitative", "scale": {"domain": [0, 0.15], "nice": false}, "axis": {"orient": "left", "values": [0.05, 0.15], "labels": false, "domain": false, "tickSize": 5, "tickWidth": 2, "title": null}},
                "y2": {"field": "err"}
              }
            },
            {
              "mark": {"type": "tick", "orient": "horizontal", "color": "#3c3c3c", "thickness": 1.2, "size": 11},
              "encoding": {
                "x": {"field": "cat", "type": "nominal", "axis": null},
                "xOffset": {"field": "grp", "type": "nominal", "sort": ["DM", "CO"]},
                "y": {"field": "err", "type": "quantitative", "scale": {"domain": [0, 0.15], "nice": false}, "axis": null}
              }
            }
          ],
          "resolve": {"axis": {"x": "independent", "y": "independent"}}
        }
      ]
    }
  ]
}
